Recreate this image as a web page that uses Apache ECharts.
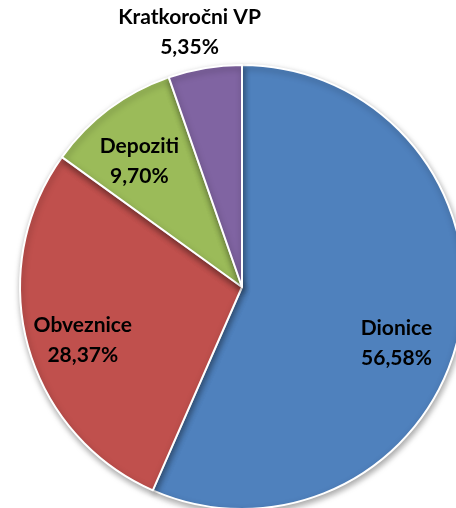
<!DOCTYPE html>
<html><head><meta charset="utf-8">
<script src="https://cdn.jsdelivr.net/npm/echarts@6/dist/echarts.min.js"></script>
<style>html,body{margin:0;padding:0;background:#fff}#c{width:456px;height:508px}</style>
</head><body><div id="c"></div>
<script>
const categories = ['Dionice', 'Obveznice', 'Depoziti', 'Kratkoročni VP'];
const values = [56.58, 28.37, 9.70, 5.35];
const colors = ['#4F81BD', '#C0504D', '#9BBB59', '#8064A2'];
const outsideLabels = ['Kratkoročni VP'];
const labelShift = { 'Dionice': [-7, 22], 'Obveznice': [0, 10], 'Depoziti': [-4, 6], 'Kratkoročni VP': [-9, 2] };

const data = categories.map((c, i) => ({ name: c, value: values[i], itemStyle: { color: colors[i] } }));
const fmt = p => p.name + '\n' + p.value.toFixed(2).replace('.', ',') + '%';
const labelFont = { fontFamily: 'Lato', fontWeight: 'bold', fontSize: 21, lineHeight: 30, color: '#000' };

const chart = echarts.init(document.getElementById('c'), null, { renderer: 'canvas' });
const center = [242, 287];
const shiftLayout = p => { const s = labelShift[categories[p.dataIndex]] || [0, 0]; return { dx: s[0], dy: s[1] }; };
chart.setOption({
  animation: false,
  series: [
    {
      type: 'pie', center, radius: [0, 222], startAngle: 90, clockwise: true, silent: true,
      data,
      itemStyle: { borderColor: '#fff', borderWidth: 2, shadowBlur: 6, shadowOffsetY: 3, shadowOffsetX: 1, shadowColor: 'rgba(0,0,0,0.35)' },
      label: { show: false }, labelLine: { show: false }
    },
    {
      type: 'pie', center, radius: [102, 222], startAngle: 90, clockwise: true, silent: true,
      data: data.map(d => ({ name: d.name, value: d.value,
        label: { show: !outsideLabels.includes(d.name) } })),
      itemStyle: { color: 'rgba(0,0,0,0)', borderWidth: 0 },
      label: Object.assign({ position: 'inside', formatter: fmt, align: 'center' }, labelFont),
      labelLine: { show: false }, labelLayout: shiftLayout
    },
    {
      type: 'pie', center, radius: [222, 292], startAngle: 90, clockwise: true, silent: true,
      data: data.map(d => ({ name: d.name, value: d.value,
        label: { show: outsideLabels.includes(d.name) } })),
      itemStyle: { color: 'rgba(0,0,0,0)', borderWidth: 0 },
      label: Object.assign({ position: 'inside', formatter: fmt, align: 'center' }, labelFont),
      labelLine: { show: false }, labelLayout: shiftLayout
    }
  ]
});
</script></body></html>
